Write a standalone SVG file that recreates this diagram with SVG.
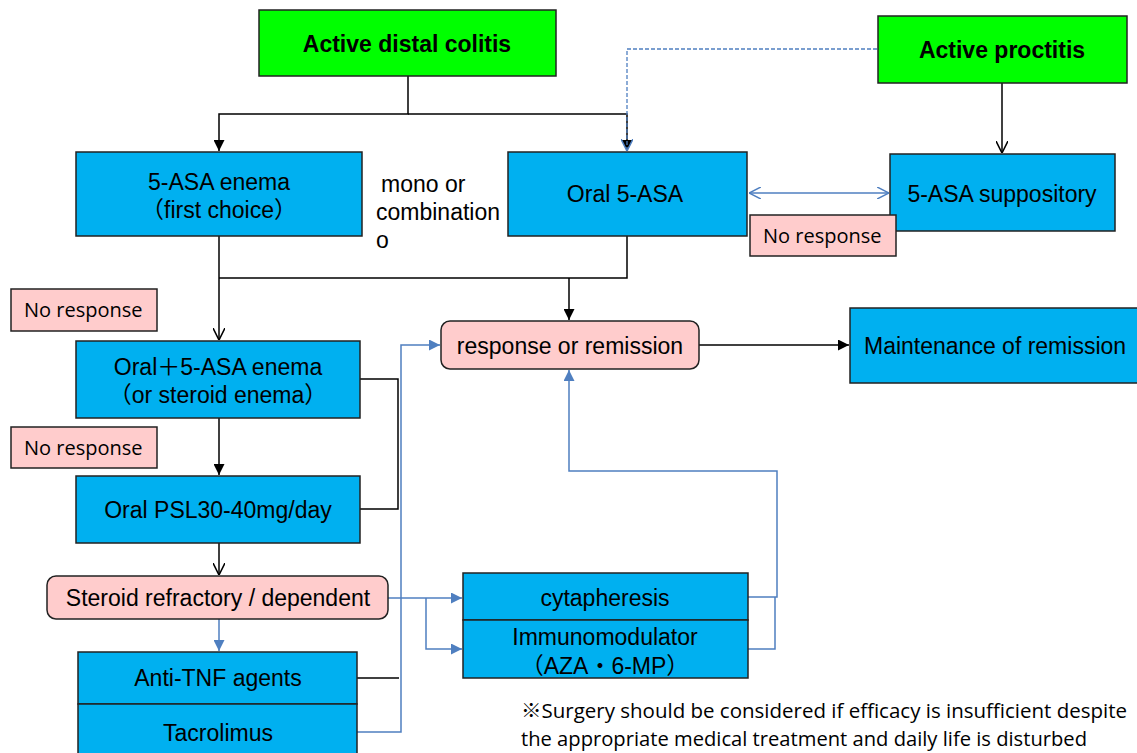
<svg xmlns="http://www.w3.org/2000/svg" width="1137" height="753" viewBox="0 0 1137 753">
<style>
.bx{fill:#00B0F0;stroke:#222;stroke-width:1.5}
.gr{fill:#00FF00;stroke:#222;stroke-width:1.5}
.pk{fill:#FFCCCC;stroke:#222;stroke-width:1.5}
.t{font-family:"Liberation Sans","Noto Sans CJK JP",Arial,sans-serif;font-size:23px;fill:#000;text-anchor:middle}
.tb{font-family:"Liberation Sans",Arial,sans-serif;font-size:23px;font-weight:bold;fill:#000;text-anchor:middle}
.tl{font-family:"Liberation Sans",Arial,sans-serif;font-size:23px;fill:#000}
.c{font-family:"Open Sans","Noto Sans CJK JP",sans-serif;font-size:20px;fill:#000}
.k{fill:none;stroke:#000;stroke-width:1.5}
.b{fill:none;stroke:#4F7FC0;stroke-width:1.5}
.d{fill:none;stroke:#4F7FC0;stroke-width:1.3;stroke-dasharray:4 2}
</style>
<defs>
<marker id="kf" viewBox="0 0 10 10" refX="10" refY="5" markerWidth="11" markerHeight="11" markerUnits="userSpaceOnUse" orient="auto"><path d="M0,0L10,5L0,10z" fill="#000"/></marker>
<marker id="ko" viewBox="0 0 10 10" refX="10" refY="5" markerWidth="12" markerHeight="12" markerUnits="userSpaceOnUse" orient="auto"><path d="M0,0L10,5L0,10" fill="none" stroke="#000" stroke-width="1.3"/></marker>
<marker id="bf" viewBox="0 0 10 10" refX="10" refY="5" markerWidth="11" markerHeight="11" markerUnits="userSpaceOnUse" orient="auto"><path d="M0,0L10,5L0,10z" fill="#4F7FC0"/></marker>
<marker id="bo" viewBox="0 0 10 10" refX="10" refY="5" markerWidth="12" markerHeight="12" markerUnits="userSpaceOnUse" orient="auto-start-reverse"><path d="M0,0L10,5L0,10" fill="none" stroke="#4F7FC0" stroke-width="1.3"/></marker>
</defs>

<g id="connectors">
<path class="k" d="M408,76V114H219V151" marker-end="url(#kf)"/>
<path class="k" d="M408,114H627V151" marker-end="url(#kf)"/>
<path class="d" d="M877,49H627V151" marker-end="url(#bo)"/>
<path class="k" d="M1002,83V153" marker-end="url(#ko)"/>
<path class="b" d="M749,193H889" marker-start="url(#bo)" marker-end="url(#bo)"/>
<path class="k" d="M219,236V340" marker-end="url(#ko)"/>
<path class="k" d="M219,278H627V236"/>
<path class="k" d="M569,278V320" marker-end="url(#kf)"/>
<path class="k" d="M219,418V475" marker-end="url(#kf)"/>
<path class="k" d="M360,379H398V509H360"/>
<path class="k" d="M357,678H399"/>
<path class="b" d="M357,732H401V345H440" marker-end="url(#bf)"/>
<path class="k" d="M699,345H849" marker-end="url(#kf)"/>
<path class="k" d="M219,543V575" marker-end="url(#ko)"/>
<path class="b" d="M219,619V651" marker-end="url(#bf)"/>
<path class="b" d="M388,598H462" marker-end="url(#bf)"/>
<path class="b" d="M426,598V649H462" marker-end="url(#bf)"/>
<path class="b" d="M748,597H777V471H569V370" marker-end="url(#bf)"/>
<path class="b" d="M748,649H775V597"/>
</g>

<g id="active-distal-colitis"><rect class="gr" x="259" y="10" width="297" height="66"/><text class="tb" x="407" y="52">Active distal colitis</text></g>
<g id="active-proctitis"><rect class="gr" x="878" y="16" width="249" height="67"/><text class="tb" x="1002" y="58">Active proctitis</text></g>
<g id="asa-enema"><rect class="bx" x="76" y="152" width="286" height="84"/><text class="t" x="219" y="190">5-ASA enema</text><text class="t" x="219" y="218">（first choice）</text></g>
<g id="mono-label"><text class="tl" x="381" y="192">mono or</text><text class="tl" x="376" y="220">combination</text><text class="tl" x="376" y="248">o</text></g>
<g id="oral-asa"><rect class="bx" x="508" y="152" width="239" height="84"/><text class="t" x="625" y="202">Oral 5-ASA</text></g>
<g id="asa-suppository"><rect class="bx" x="890" y="154" width="225" height="77"/><text class="t" x="1002" y="202">5-ASA suppository</text></g>
<g id="no-response-top"><rect class="pk" x="750" y="215" width="146" height="41"/><text class="c" x="763" y="243">No response</text></g>
<g id="no-response-1"><rect class="pk" x="11" y="289" width="146" height="42"/><text class="c" x="24" y="317">No response</text></g>
<g id="oral-enema"><rect class="bx" x="76" y="341" width="284" height="77"/><text class="t" x="218" y="375">Oral＋5-ASA enema</text><text class="t" x="218" y="403">（or steroid enema）</text></g>
<g id="no-response-2"><rect class="pk" x="11" y="427" width="146" height="41"/><text class="c" x="24" y="455">No response</text></g>
<g id="oral-psl"><rect class="bx" x="76" y="476" width="284" height="67"/><text class="t" x="218" y="518">Oral PSL30-40mg/day</text></g>
<g id="response"><rect class="pk" x="441" y="321" width="258" height="48" rx="9"/><text class="t" x="570" y="354">response or remission</text></g>
<g id="maintenance"><rect class="bx" x="850" y="308" width="300" height="75"/><text class="tl" x="864" y="354">Maintenance of remission</text></g>
<g id="steroid-refractory"><rect class="pk" x="47" y="576" width="341" height="43" rx="9"/><text class="t" x="218" y="606">Steroid refractory / dependent</text></g>
<g id="anti-tnf"><rect class="bx" x="78" y="652" width="279" height="52"/><text class="t" x="218" y="686">Anti-TNF agents</text></g>
<g id="tacrolimus"><rect class="bx" x="78" y="704" width="279" height="60"/><text class="t" x="218" y="741">Tacrolimus</text></g>
<g id="cytapheresis"><rect class="bx" x="463" y="573" width="285" height="47"/><text class="t" x="605" y="606">cytapheresis</text></g>
<g id="immunomodulator"><rect class="bx" x="463" y="620" width="285" height="58"/><text class="t" x="605" y="645">Immunomodulator</text><text class="t" x="605" y="674">（AZA・6-MP）</text></g>
<g id="footnote"><text class="c" x="521" y="718" textLength="606" lengthAdjust="spacingAndGlyphs">※Surgery should be considered if efficacy is insufficient despite</text><text class="c" x="521" y="746" textLength="566" lengthAdjust="spacingAndGlyphs">the appropriate medical treatment and daily life is disturbed</text></g>
</svg>
